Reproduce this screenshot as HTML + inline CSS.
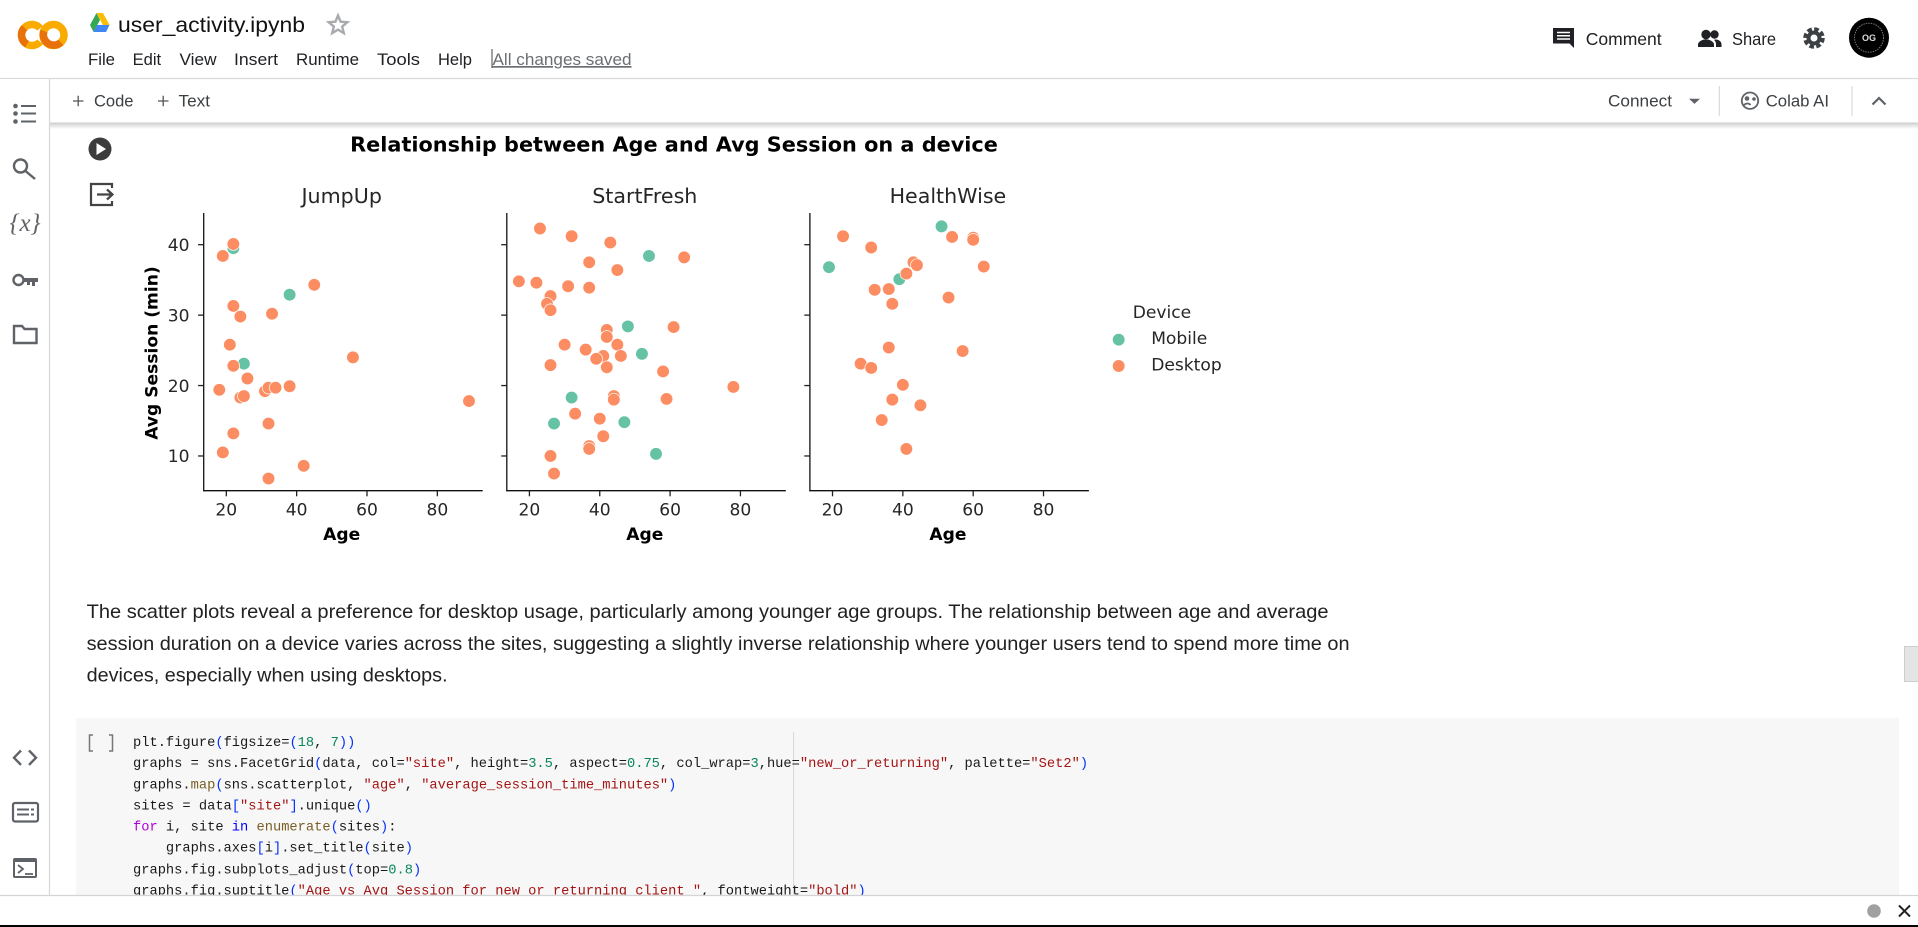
<!DOCTYPE html>
<html lang="en">
<head>
<meta charset="utf-8">
<title>user_activity.ipynb - Colab</title>
<style>
html,body{margin:0;padding:0;background:#fff;width:1918px;height:927px;overflow:hidden}
svg{display:block;position:absolute;left:0;top:0}
text{font-family:"Liberation Sans",sans-serif;white-space:pre}
.ui{fill:#3c4043;font-size:17px}
.menu{fill:#202124;font-size:17px}
.para{fill:#212121;font-size:19.5px}
.code{font-family:"Liberation Mono",monospace;font-size:13.73px;fill:#1a1a1a}
.s{fill:#a31515}.n{fill:#098658}.b{fill:#0431fa}.k{fill:#af00db}.i{fill:#0000ff}.f{fill:#795e26}
.dj{font-family:"DejaVu Sans",sans-serif;fill:#262626}
.ic{fill:none;stroke:#5f6368;stroke-width:2.4}
</style>
</head>
<body>
<svg id="page" width="1918" height="927" viewBox="0 0 1918 927" xmlns="http://www.w3.org/2000/svg">
  <defs>
    <linearGradient id="toolbarShadow" x1="0" y1="0" x2="0" y2="1">
      <stop offset="0" stop-color="#c8c8c8"/>
      <stop offset="1" stop-color="#ffffff"/>
    </linearGradient>
  </defs>
  <rect width="1918" height="927" fill="#fff"/>

  <!-- code cell -->
  <g>
    <rect x="76" y="718" width="1823" height="178" fill="#f7f7f7"/>
    <path d="M93 735h-3.500v16h3.500M109 735h3.500v16h-3.500" fill="none" stroke="#777" stroke-width="1.500"/>
    <line x1="793.600" y1="732" x2="793.600" y2="896" stroke="#d6d6d6"/>
    <text class="code" x="133" y="746">plt.figure<tspan class="b">(</tspan>figsize=<tspan class="b">(</tspan><tspan class="n">18</tspan>, <tspan class="n">7</tspan><tspan class="b">))</tspan></text>
    <text class="code" x="133" y="767">graphs = sns.FacetGrid<tspan class="b">(</tspan>data, col=<tspan class="s">"site"</tspan>, height=<tspan class="n">3.5</tspan>, aspect=<tspan class="n">0.75</tspan>, col_wrap=<tspan class="n">3</tspan>,hue=<tspan class="s">"new_or_returning"</tspan>, palette=<tspan class="s">"Set2"</tspan><tspan class="b">)</tspan></text>
    <text class="code" x="133" y="788.500">graphs.<tspan class="f">map</tspan><tspan class="b">(</tspan>sns.scatterplot, <tspan class="s">"age"</tspan>, <tspan class="s">"average_session_time_minutes"</tspan><tspan class="b">)</tspan></text>
    <text class="code" x="133" y="809.500">sites = data<tspan class="b">[</tspan><tspan class="s">"site"</tspan><tspan class="b">]</tspan>.unique<tspan class="b">()</tspan></text>
    <text class="code" x="133" y="830.500"><tspan class="k">for</tspan> i, site <tspan class="i">in</tspan> <tspan class="f">enumerate</tspan><tspan class="b">(</tspan>sites<tspan class="b">)</tspan>:</text>
    <text class="code" x="133" y="851.500">    graphs.axes<tspan class="b">[</tspan>i<tspan class="b">]</tspan>.set_title<tspan class="b">(</tspan>site<tspan class="b">)</tspan></text>
    <text class="code" x="133" y="873.500">graphs.fig.subplots_adjust<tspan class="b">(</tspan>top=<tspan class="n">0.8</tspan><tspan class="b">)</tspan></text>
    <text class="code" x="133" y="894.500">graphs.fig.suptitle<tspan class="b">(</tspan><tspan class="s">"Age vs Avg Session for new or returning client "</tspan>, fontweight=<tspan class="s">"bold"</tspan><tspan class="b">)</tspan></text>
  </g>

  <!-- markdown paragraph -->
  <g>
    <text class="para" x="86.600" y="618" textLength="1242" lengthAdjust="spacingAndGlyphs">The scatter plots reveal a preference for desktop usage, particularly among younger age groups. The relationship between age and average</text>
    <text class="para" x="86.600" y="650" textLength="1263" lengthAdjust="spacingAndGlyphs">session duration on a device varies across the sites, suggesting a slightly inverse relationship where younger users tend to spend more time on</text>
    <text class="para" x="86.600" y="681.700" textLength="361" lengthAdjust="spacingAndGlyphs">devices, especially when using desktops.</text>
  </g>

  <!-- chart -->
  <g id="chart" style="filter:blur(0.35px)">
    <text class="dj" x="674" y="151.500" text-anchor="middle" font-size="20.800" font-weight="bold" style="fill:#000">Relationship between Age and Avg Session on a device</text>
    <text class="dj" transform="translate(157.500,353) rotate(-90)" text-anchor="middle" font-size="17.100" font-weight="bold" style="fill:#000">Avg Session (min)</text>
    <g>
      <text class="dj" x="1132.700" y="318" font-size="17.100">Device</text>
      <circle cx="1118.700" cy="339.700" r="6.300" fill="#66c2a5" stroke="#fff" stroke-width="0.700"/>
      <text class="dj" x="1151.200" y="344" font-size="17.100">Mobile</text>
      <circle cx="1118.700" cy="366" r="6.300" fill="#fc8d62" stroke="#fff" stroke-width="0.700"/>
      <text class="dj" x="1151.200" y="370.700" font-size="17.100">Desktop</text>
    </g>
  </g>

  <!-- cell gutter icons -->
  <g>
    <circle cx="100" cy="149" r="11.500" fill="#3c3c3c"/>
    <path d="M96.500 143 L106 149 L96.500 155Z" fill="#fff"/>
  </g>
  <g>
    <path d="M112 188v-4H91v21h21v-4" fill="none" stroke="#444" stroke-width="2.200"/>
    <path d="M97 194.500h15M107 189.500l5.500 5-5.500 5" fill="none" stroke="#444" stroke-width="2.200"/>
  </g>

  <!-- header -->
  <g>
    <rect x="0" y="0" width="1918" height="78" fill="#fff"/>
    <g fill="none" stroke-width="7.500">
      <circle cx="53.500" cy="35" r="10.500" stroke="#f9ab00"/>
      <path d="M44 31A10.500 10.500 0 0 0 60.900 42.400" stroke="#e8710a"/>
      <path d="M40.040 28.250A10.500 10.500 0 1 0 40.040 41.750" stroke="#f9ab00"/>
      <path d="M24.600 27.600A10.500 10.500 0 0 0 27 44.200" stroke="#e8710a"/>
    </g>
    <g>
      <polygon points="96.500,13 90,25 93.500,32 100,20" fill="#34a853"/>
      <polygon points="96.500,13 103,13 109.500,25 103,25" fill="#fbbc04"/>
      <polygon points="93.500,32 106,32 109.500,25 97,25" fill="#4285f4"/>
    </g>
    <text x="118" y="32" font-size="21.500" fill="#111" textLength="187" lengthAdjust="spacingAndGlyphs">user_activity.ipynb</text>
    <path d="M338 15.500l2.600 6.200 6.700.5-5.100 4.400 1.600 6.500-5.800-3.500-5.800 3.500 1.600-6.500-5.100-4.400 6.700-.5z" fill="none" stroke="#a8abae" stroke-width="2.400"/>
    <text class="menu" x="88" y="65" textLength="27" lengthAdjust="spacingAndGlyphs">File</text>
    <text class="menu" x="132.600" y="65" textLength="28.500" lengthAdjust="spacingAndGlyphs">Edit</text>
    <text class="menu" x="179.500" y="65" textLength="37" lengthAdjust="spacingAndGlyphs">View</text>
    <text class="menu" x="234" y="65" textLength="44" lengthAdjust="spacingAndGlyphs">Insert</text>
    <text class="menu" x="296" y="65" textLength="63" lengthAdjust="spacingAndGlyphs">Runtime</text>
    <text class="menu" x="377" y="65" textLength="43" lengthAdjust="spacingAndGlyphs">Tools</text>
    <text class="menu" x="438" y="65" textLength="34" lengthAdjust="spacingAndGlyphs">Help</text>
    <line x1="492" y1="49" x2="492" y2="68" stroke="#444" stroke-width="1"/>
    <text x="492.500" y="65" font-size="17" fill="#6b6f73" textLength="139" lengthAdjust="spacingAndGlyphs" text-decoration="underline">All changes saved</text>

    <g>
      <path d="M1553 28h21v20l-4.500-4.500H1553z" fill="#202124"/>
      <path d="M1557 32.500h13M1557 35.800h13M1557 39h13" stroke="#fff" stroke-width="1.500"/>
      <text x="1585.700" y="45" font-size="17.500" fill="#202124" textLength="76" lengthAdjust="spacingAndGlyphs">Comment</text>
    </g>
    <g fill="#202124">
      <circle cx="1706" cy="34.500" r="4.700"/>
      <circle cx="1714.500" cy="34.500" r="4.200"/>
      <path d="M1698 47v-2.500c0-3 5-5.200 8-5.200s8 2.200 8 5.200V47z"/>
      <path d="M1716 39.500c3 .3 5.500 2 5.500 4.800V47H1716v-3c0-2-1-3.200-2-4.300z"/>
      <text x="1732" y="45" font-size="17.500" textLength="44" lengthAdjust="spacingAndGlyphs">Share</text>
    </g>
    <g fill="none">
      <circle cx="1814" cy="38" r="8.800" stroke="#3c4043" stroke-width="4" stroke-dasharray="4.500 2.400"/>
      <circle cx="1814" cy="38" r="5.500" stroke="#3c4043" stroke-width="4"/>
    </g>
    <g>
      <circle cx="1869" cy="37.700" r="20" fill="#000"/>
      <circle cx="1869" cy="37.700" r="14.500" fill="none" stroke="#777" stroke-width="1" stroke-dasharray="1.500 1"/>
      <text x="1869" y="41" font-size="9" font-weight="bold" fill="#ddd" text-anchor="middle">OG</text>
    </g>
  </g>

  <!-- toolbar -->
  <g>
    <rect x="50" y="122" width="1868" height="7" fill="url(#toolbarShadow)"/>
    <rect x="50" y="79" width="1868" height="43.500" fill="#fff"/>
    <line x1="0" y1="78.500" x2="1918" y2="78.500" stroke="#dadada" stroke-width="1.200"/>
    <g>
      <path d="M73 101h10.500M78.200 95.700v10.600" stroke="#555" stroke-width="1.300"/>
      <text class="ui" x="94" y="106.700" textLength="39.500" lengthAdjust="spacingAndGlyphs">Code</text>
    </g>
    <g>
      <path d="M158 101h10.500M163.200 95.700v10.600" stroke="#555" stroke-width="1.300"/>
      <text class="ui" x="178.500" y="106.700" textLength="31.500" lengthAdjust="spacingAndGlyphs">Text</text>
    </g>
    <g>
      <text class="ui" x="1608" y="106.700" textLength="64" lengthAdjust="spacingAndGlyphs">Connect</text>
      <path d="M1689 98.700h11l-5.500 5.200z" fill="#5f6368"/>
    </g>
    <line x1="1719.300" y1="86" x2="1719.300" y2="116" stroke="#d4d4d4"/>
    <g>
      <circle cx="1750" cy="100.700" r="8.200" fill="none" stroke="#5f6368" stroke-width="1.800"/>
      <circle cx="1747" cy="98.500" r="2.300" fill="#5f6368"/>
      <circle cx="1754" cy="99" r="1.800" fill="#5f6368"/>
      <path d="M1744 105c2-2 5-2 6.500 0" fill="none" stroke="#5f6368" stroke-width="1.800"/>
      <text class="ui" x="1765.700" y="106.700" textLength="63.300" lengthAdjust="spacingAndGlyphs">Colab AI</text>
    </g>
    <line x1="1852" y1="86" x2="1852" y2="116" stroke="#d4d4d4"/>
    <path d="M1872.500 104.500l6.500-6.500 6.500 6.500" fill="none" stroke="#5f6368" stroke-width="2.200"/>
  </g>

  <!-- left sidebar -->
  <g>
    <rect x="0" y="79" width="49" height="817" fill="#fff"/>
    <line x1="49.500" y1="79" x2="49.500" y2="895" stroke="#d8d8d8" stroke-width="1.200"/>
    <g fill="#5f6368">
      <circle cx="15.500" cy="106" r="2.300"/><circle cx="15.500" cy="113.500" r="2.300"/><circle cx="15.500" cy="121.500" r="2.300"/>
      <rect x="21" y="105" width="15" height="2"/><rect x="21" y="112.500" width="15" height="2"/><rect x="21" y="120.500" width="15" height="2"/>
    </g>
    <g class="ic">
      <circle cx="20.500" cy="166" r="6.500"/>
      <path d="M25.500 171l9.500 8"/>
    </g>
    <text x="25" y="231" text-anchor="middle" font-size="25" font-style="italic" fill="#5f6368" style='font-family:"Liberation Serif",serif'>{x}</text>
    <g>
      <circle cx="18.500" cy="280" r="5" fill="none" stroke="#5f6368" stroke-width="2.400"/>
      <path d="M24 278h14v4h-3v4h-3v-4h-2v3h-3v-3h-3z" fill="#5f6368"/>
    </g>
    <path class="ic" d="M14 326h8l2.500 3H36.500v14H14z"/>
    <path class="ic" d="M21 750.500l-7 7.200 7 7.200M29 750.500l7 7.200-7 7.200"/>
    <g>
      <rect x="13" y="803" width="25" height="18.500" rx="2" fill="none" stroke="#5f6368" stroke-width="2.200"/>
      <path d="M17 809.500h12M31 809.500h3M17 814.500h12M31 814.500h3" stroke="#5f6368" stroke-width="2"/>
    </g>
    <g>
      <rect x="13" y="858" width="24" height="20" rx="2" fill="#5f6368"/>
      <rect x="15" y="862" width="20" height="14" fill="#fff"/>
      <path d="M18 865l5 4-5 4M25 874h8" fill="none" stroke="#5f6368" stroke-width="1.800"/>
    </g>
  </g>

  <!-- scrollbar -->
  <rect x="1904.500" y="646.500" width="14" height="35" fill="#e4e4e4" stroke="#cdcdcd"/>

  <!-- bottom status bar -->
  <g>
    <rect x="0" y="896" width="1918" height="29" fill="#fff"/>
    <line x1="0" y1="895.500" x2="1918" y2="895.500" stroke="#d4d4d4" stroke-width="1.200"/>
    <circle cx="1874" cy="911" r="6.800" fill="#a0a0a0"/>
    <path d="M1899 905.500l11 11M1910 905.500l-11 11" stroke="#222" stroke-width="2"/>
    <rect x="0" y="925" width="1918" height="2" fill="#000"/>
  </g>
</svg>

<script>
const sites = ['JumpUp', 'StartFresh', 'HealthWise'];
const xTickValues = [20, 40, 60, 80];
const yTickValues = [10, 20, 30, 40];

const jumpUpMobileAge = [22, 38, 25];
const jumpUpMobileSession = [39.5, 32.9, 23.1];
const jumpUpDesktopAge = [22, 19, 45, 22, 24, 33, 21, 56, 22, 26, 18, 31, 32, 34, 38, 24, 25, 89, 32, 22, 19, 42, 32];
const jumpUpDesktopSession = [40.1, 38.4, 34.3, 31.3, 29.8, 30.2, 25.8, 24.0, 22.8, 21.0, 19.4, 19.2, 19.7, 19.7, 19.9, 18.3, 18.5, 17.8, 14.6, 13.2, 10.5, 8.6, 6.8];

const startFreshMobileAge = [54, 48, 52, 32, 27, 47, 56];
const startFreshMobileSession = [38.4, 28.4, 24.5, 18.3, 14.6, 14.8, 10.3];
const startFreshDesktopAge = [23, 32, 43, 64, 37, 45, 17, 22, 31, 37, 26, 25, 26, 61, 42, 42, 30, 45, 36, 41, 39, 46, 26, 42, 58, 78, 44, 44, 59, 33, 40, 41, 37, 37, 26, 27];
const startFreshDesktopSession = [42.3, 41.2, 40.3, 38.2, 37.5, 36.4, 34.8, 34.6, 34.1, 33.9, 32.7, 31.6, 30.7, 28.3, 27.9, 26.9, 25.8, 25.8, 25.1, 24.2, 23.8, 24.2, 22.9, 22.6, 22.0, 19.8, 18.5, 18.0, 18.1, 16.0, 15.3, 12.8, 11.4, 11.0, 10.0, 7.5];

const healthWiseMobileAge = [19, 51, 39];
const healthWiseMobileSession = [36.8, 42.6, 35.1];
const healthWiseDesktopAge = [23, 31, 54, 60, 60, 43, 44, 63, 41, 32, 36, 53, 37, 36, 57, 28, 31, 40, 37, 45, 34, 41];
const healthWiseDesktopSession = [41.2, 39.6, 41.1, 41.0, 40.7, 37.5, 37.1, 36.9, 35.9, 33.6, 33.7, 32.5, 31.6, 25.4, 24.9, 23.1, 22.5, 20.1, 18.0, 17.2, 15.1, 11.0];

const mobileAges = [jumpUpMobileAge, startFreshMobileAge, healthWiseMobileAge];
const mobileSessions = [jumpUpMobileSession, startFreshMobileSession, healthWiseMobileSession];
const desktopAges = [jumpUpDesktopAge, startFreshDesktopAge, healthWiseDesktopAge];
const desktopSessions = [jumpUpDesktopSession, startFreshDesktopSession, healthWiseDesktopSession];

const NS = 'http://www.w3.org/2000/svg';
const chart = document.getElementById('chart');
const plotLeft = 203.7, plotStep = 303.1, plotWidth = 279, plotTop = 213, plotBottom = 490.7;
const xMin = 13.57, xMax = 92.9, yMin = 5.07, yMax = 44.5;

function xScale(panel, age) {
  return plotLeft + panel * plotStep + (age - xMin) / (xMax - xMin) * plotWidth;
}
function yScale(session) {
  return plotBottom - (session - yMin) / (yMax - yMin) * (plotBottom - plotTop);
}
function svgEl(tag, attrs, parent) {
  const el = document.createElementNS(NS, tag);
  for (const k in attrs) el.setAttribute(k, attrs[k]);
  parent.appendChild(el);
  return el;
}
function drawDots(panel, ages, sessions, color, parent, name) {
  ages.forEach(function (age, i) {
    const dot = svgEl('circle', { cx: xScale(panel, age), cy: yScale(sessions[i]), r: 6.3, fill: color, stroke: '#fff', 'stroke-width': 0.7 }, parent);
    
    
  });
}

sites.forEach(function (site, p) {
  const panelGroup = svgEl('g', {}, chart);
  
  
  const left = plotLeft + p * plotStep;
  const center = left + 138;

  const title = svgEl('text', { x: center, y: 203, 'text-anchor': 'middle', 'font-size': 20.6, class: 'dj' }, panelGroup);
  title.textContent = site;
  
  

  const ySpine = svgEl('line', { x1: left, x2: left, y1: plotTop, y2: plotBottom + 0.6, stroke: '#111', 'stroke-width': 1.3 }, panelGroup);
  
  
  const xSpine = svgEl('line', { x1: left - 0.6, x2: left + plotWidth, y1: plotBottom, y2: plotBottom, stroke: '#111', 'stroke-width': 1.3 }, panelGroup);
  
  

  xTickValues.forEach(function (t) {
    const x = xScale(p, t);
    const tick = svgEl('line', { x1: x, x2: x, y1: plotBottom, y2: plotBottom + 5.6, stroke: '#222', 'stroke-width': 1.3 }, panelGroup);
    
    
    const label = svgEl('text', { x: x, y: 515.7, 'text-anchor': 'middle', 'font-size': 17.1, class: 'dj' }, panelGroup);
    label.textContent = t;
    
    
  });

  yTickValues.forEach(function (t) {
    const y = yScale(t);
    const tick = svgEl('line', { x1: left - 5.6, x2: left, y1: y, y2: y, stroke: '#222', 'stroke-width': 1.3 }, panelGroup);
    
    
    if (p === 0) {
      const label = svgEl('text', { x: 189.5, y: y + 6.2, 'text-anchor': 'end', 'font-size': 17.1, class: 'dj' }, panelGroup);
      label.textContent = t;
      
      
    }
  });

  const xLabel = svgEl('text', { x: center, y: 540, 'text-anchor': 'middle', 'font-size': 17.1, 'font-weight': 'bold', class: 'dj', style: 'fill:#000' }, panelGroup);
  xLabel.textContent = 'Age';
  
  

  drawDots(p, mobileAges[p], mobileSessions[p], '#66c2a5', panelGroup, 'point-mobile');
  drawDots(p, desktopAges[p], desktopSessions[p], '#fc8d62', panelGroup, 'point-desktop');
});
</script>
</body>
</html>
